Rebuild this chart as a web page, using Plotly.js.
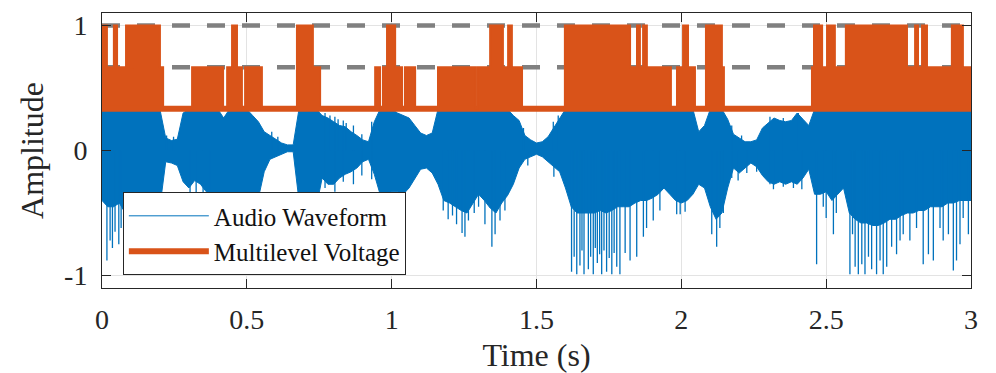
<!DOCTYPE html>
<html><head><meta charset="utf-8">
<script src="https://cdn.plot.ly/plotly-3.0.1.min.js"></script>
<style>html,body{margin:0;padding:0;background:#fff;}#chart{width:996px;height:373px;}</style>
</head><body><div id="chart"></div>
<script>
// ---- data ----
const SAMPLE_STEP = 0.02; // s, spacing of the envelope samples
// upper envelope of the audio waveform (visible part below the voltage trace)
const waveTop = [
 0.33,0.33,0.33,0.33,0.33,0.33,0.33,0.33,0.33,0.33,   // 0.00-0.18
 0.33,0.10,0.08,0.09,0.30,0.33,0.33,0.33,0.33,0.33,   // 0.20-0.38
 0.33,0.26,0.33,0.33,0.33,0.33,0.28,0.23,0.15,0.12,   // 0.40-0.58
 0.085,0.06,0.045,0.045,0.33,0.33,0.33,0.33,0.28,0.26,// 0.60-0.78
 0.23,0.20,0.19,0.15,0.12,0.085,0.07,0.23,0.33,0.33,  // 0.80-0.98
 0.33,0.30,0.28,0.26,0.20,0.14,0.12,0.14,0.33,0.33,   // 1.00-1.18
 0.33,0.33,0.33,0.33,0.33,0.33,0.33,0.33,0.33,0.33,   // 1.20-1.38
 0.33,0.28,0.24,0.12,0.085,0.06,0.07,0.11,0.18,0.26,  // 1.40-1.58
 0.33,0.33,0.33,0.33,0.33,0.33,0.33,0.33,0.33,0.33,   // 1.60-1.78
 0.33,0.33,0.33,0.33,0.33,0.33,0.33,0.33,0.33,0.33,   // 1.80-1.98
 0.33,0.33,0.33,0.15,0.20,0.33,0.33,0.33,0.25,0.13,   // 2.00-2.18
 0.10,0.07,0.07,0.085,0.18,0.22,0.26,0.24,0.23,0.24,  // 2.20-2.38
 0.30,0.25,0.20,0.33,0.33,0.33,0.33,0.33,0.33,0.33,   // 2.40-2.58
 0.33,0.33,0.33,0.33,0.33,0.33,0.33,0.33,0.33,0.33,   // 2.60-2.78
 0.33,0.33,0.33,0.33,0.33,0.33,0.33,0.33,0.33,0.33,   // 2.80-2.98
 0.33                                                  // 3.00
];
// lower (dense) envelope of the audio waveform
const waveBottom = [
 -0.40,-0.45,-0.45,-0.42,-0.50,-0.50,-0.50,-0.50,-0.50,-0.50,  // 0.00-0.18
 -0.45,-0.09,-0.10,-0.12,-0.25,-0.30,-0.24,-0.27,-0.33,-0.35,  // 0.20-0.38
 -0.38,-0.40,-0.45,-0.50,-0.55,-0.50,-0.45,-0.38,-0.17,-0.07,  // 0.40-0.58
 -0.05,-0.03,-0.01,-0.01,-0.40,-0.60,-0.55,-0.45,-0.22,-0.27,  // 0.60-0.78
 -0.27,-0.22,-0.19,-0.17,-0.14,-0.09,-0.07,-0.19,-0.35,-0.42,  // 0.80-0.98
 -0.33,-0.33,-0.35,-0.30,-0.22,-0.15,-0.14,-0.18,-0.27,-0.40,  // 1.00-1.18
 -0.42,-0.45,-0.48,-0.50,-0.42,-0.35,-0.40,-0.46,-0.50,-0.42,  // 1.20-1.38
 -0.36,-0.27,-0.14,-0.07,-0.05,-0.03,-0.05,-0.09,-0.13,-0.17,  // 1.40-1.58
 -0.30,-0.45,-0.50,-0.50,-0.50,-0.50,-0.48,-0.50,-0.48,-0.45,  // 1.60-1.78
 -0.45,-0.45,-0.42,-0.40,-0.40,-0.38,-0.35,-0.30,-0.35,-0.40,  // 1.80-1.98
 -0.42,-0.40,-0.35,-0.27,-0.30,-0.45,-0.55,-0.50,-0.30,-0.14,  // 2.00-2.18
 -0.18,-0.14,-0.10,-0.13,-0.20,-0.25,-0.27,-0.25,-0.27,-0.25,  // 2.20-2.38
 -0.27,-0.22,-0.15,-0.35,-0.35,-0.33,-0.40,-0.35,-0.30,-0.50,  // 2.40-2.58
 -0.55,-0.58,-0.58,-0.60,-0.60,-0.58,-0.55,-0.55,-0.52,-0.50,  // 2.60-2.78
 -0.50,-0.48,-0.48,-0.45,-0.45,-0.45,-0.42,-0.42,-0.40,-0.40,  // 2.80-2.98
 -0.40                                                          // 3.00
];
// isolated peaks of the waveform that stick out of the envelope
const spikeTimes = [0.017,0.028,0.036,0.045,0.058,0.066,
 0.223,0.247,0.304,0.325,0.349,0.373,0.586,0.607,
 0.770,0.787,0.804,0.815,0.833,0.843,0.868,0.897,0.931,0.770,0.804,0.833,0.868,0.897,0.931,
 1.178,1.195,1.210,1.224,1.243,1.253,1.265,1.285,1.300,1.322,1.346,1.357,1.374,1.391,
 1.455,1.558,1.575,1.470,1.560,
 1.621,1.630,1.639,1.650,1.657,1.664,1.679,1.687,1.696,1.703,1.710,1.718,1.725,1.733,1.742,1.751,1.760,1.768,1.777,1.788,
 1.806,1.823,1.846,1.869,1.880,1.903,1.926,1.984,1.996,2.013,
 2.105,2.122,2.133,2.145,
 2.174,2.208,2.306,2.352,2.404,2.174,2.196,2.226,2.260,2.306,2.318,2.352,2.387,2.416,
 2.467,2.490,2.500,2.525,2.535,
 2.582,2.591,2.600,2.611,2.623,2.634,2.646,2.657,2.674,2.686,2.697,2.709,2.726,2.743,2.755,2.766,
 2.789,2.812,2.835,2.853,2.870,2.893,2.904,2.922,2.939,2.950,2.962,2.973,2.991];
const spikeValues = [-0.88,-0.72,-0.78,-0.65,-0.75,-0.62,
 0.12,0.11,-0.38,-0.35,-0.38,-0.40,0.15,0.11,
 0.30,0.28,0.27,0.25,0.24,0.22,0.20,0.13,0.23,-0.30,-0.33,-0.25,-0.27,-0.20,-0.23,
 -0.48,-0.55,-0.52,-0.59,-0.66,-0.69,-0.56,-0.50,-0.45,-0.59,-0.77,-0.67,-0.56,-0.48,
 0.18,0.23,0.28,-0.12,-0.21,
 -0.97,-0.85,-0.99,-0.92,-0.80,-0.99,-0.95,-0.85,-0.99,-0.78,-0.90,-0.83,-0.99,-0.80,-0.97,-0.86,-0.99,-0.82,-0.93,-0.99,
 -0.82,-0.88,-0.85,-0.69,-0.62,-0.56,-0.48,-0.51,-0.51,-0.49,
 -0.67,-0.77,-0.62,-0.50,
 0.20,0.12,0.27,0.26,0.30,-0.22,-0.24,-0.18,-0.17,-0.27,-0.31,-0.29,-0.30,-0.31,
 -0.91,-0.45,-0.54,-0.67,-0.50,
 -0.99,-0.67,-0.93,-0.99,-0.91,-0.99,-0.85,-0.95,-0.99,-0.88,-0.99,-0.93,-0.77,-0.83,-0.72,-0.67,
 -0.72,-0.62,-0.91,-0.83,-0.88,-0.62,-0.72,-0.67,-0.96,-0.88,-0.75,-0.54,-0.67];

// multilevel voltage: available levels and the highest level reached in each switching interval
const voltageLevels = [1/3, 2/3, 1];
const referenceLevels = [2/3, 1]; // dashed gray guide lines
const switchTimes = [0.000,0.017,0.041,0.052,0.083,0.100,0.107,0.200,0.211,0.311,
 0.418,0.432,0.449,0.466,0.483,0.494,0.552,0.673,0.728,0.753,
 0.943,0.960,0.970,0.984,1.012,1.036,1.046,1.081,1.160,1.288,
 1.295,1.340,1.384,1.402,1.415,1.450,1.598,1.823,1.847,1.857,
 1.868,1.881,1.964,1.985,2.006,2.023,2.047,2.085,2.140,2.147,
 2.451,2.458,2.486,2.503,2.530,2.568,2.779,2.807,2.817,2.831,
 2.848,2.934,2.972,3.000];
const switchLevelIndex = [2,1,2,1,2,1,2,1,0,1, 0,1,2,1,0,1,0,2,1,0,
 1,0,1,2,1,0,1,0,1,0, 1,2,1,2,1,0,2,1,2,1,
 2,1,0,1,2,1,0,2,1,0, 1,2,1,2,1,2,1,2,1,2, 1,2,1];

const xTickVals = [0,0.5,1,1.5,2,2.5,3];
const xTickText = ['0','0.5','1','1.5','2','2.5','3'];
const yTickVals = [-1,0,1];
const yTickText = ['-1','0','1'];
const xLimits = [0,3];
const yLimits = [-1.1,1.1];

// ---- build traces ----
const BLUE = '#0072BD', ORANGE = '#D95319';
const waveTime = waveTop.map((_, i) => Math.round(i * SAMPLE_STEP * 1000) / 1000);

const spikeX = [], spikeY = [];
spikeTimes.forEach((t, i) => { spikeX.push(t, t, null); spikeY.push(0, spikeValues[i], null); });

const stepY = switchLevelIndex.map(k => voltageLevels[k]);
stepY.push(stepY[stepY.length - 1]);

const traces = [
 {x: waveTime, y: waveBottom, type:'scatter', mode:'lines', name:'Audio Waveform',
  line:{color:BLUE, width:1}, hoverinfo:'skip'},
 {x: waveTime, y: waveTop, type:'scatter', mode:'lines', fill:'tonexty', fillcolor:BLUE,
  line:{color:BLUE, width:1}, showlegend:false, hoverinfo:'skip'},
 {x: spikeX, y: spikeY, type:'scatter', mode:'lines', line:{color:BLUE, width:1.3},
  showlegend:false, hoverinfo:'skip', connectgaps:false}
];
referenceLevels.forEach(lv => traces.push({
 x: xLimits, y: [lv, lv], type:'scatter', mode:'lines', showlegend:false, hoverinfo:'skip',
 line:{color:'#808080', width:4.5, dash:'18px,17px'}
}));
traces.push({x: xLimits, y: [voltageLevels[0], voltageLevels[0]], type:'scatter', mode:'lines',
 name:'Multilevel Voltage', line:{color:ORANGE, width:6}, hoverinfo:'skip'});
traces.push({x: switchTimes, y: stepY, type:'scatter', mode:'lines', fill:'tonexty', fillcolor:ORANGE,
 line:{color:ORANGE, width:2, shape:'hv'}, showlegend:false, hoverinfo:'skip'});

const FONT = 'Liberation Serif, "DejaVu Serif", serif';
const axisCommon = {
 ticks:'inside', ticklen:9, tickwidth:1, tickcolor:'#262626',
 showline:true, linecolor:'#262626', linewidth:1, mirror:'ticks',
 showgrid:true, gridcolor:'#e3e3e3', gridwidth:1, zeroline:false,
 tickfont:{family:FONT, size:28, color:'#262626'}
};
const layout = {
 width:996, height:373,
 margin:{l:102, r:25, t:10, b:85, pad:0},
 paper_bgcolor:'#ffffff', plot_bgcolor:'#ffffff',
 font:{family:FONT, color:'#262626'},
 showlegend:true,
 legend:{x:0.024, y:0.047, xanchor:'left', yanchor:'bottom', bgcolor:'#ffffff',
  bordercolor:'#262626', borderwidth:1, font:{family:FONT, size:25, color:'#111'},
  itemwidth:80, traceorder:'normal'},
 xaxis:Object.assign({}, axisCommon, {range:xLimits, tickmode:'array', tickvals:xTickVals, ticktext:xTickText,
  ticklabelstandoff:6, title:{text:'Time (s)', font:{family:FONT, size:32, color:'#262626'}}}),
 yaxis:Object.assign({}, axisCommon, {range:yLimits, tickmode:'array', tickvals:yTickVals, ticktext:yTickText,
  ticklabelstandoff:8, automargin:true,
  title:{text:'Amplitude', standoff:10, font:{family:FONT, size:32, color:'#262626'}}})
};
Plotly.newPlot('chart', traces, layout, {displayModeBar:false, staticPlot:true});
</script></body></html>
